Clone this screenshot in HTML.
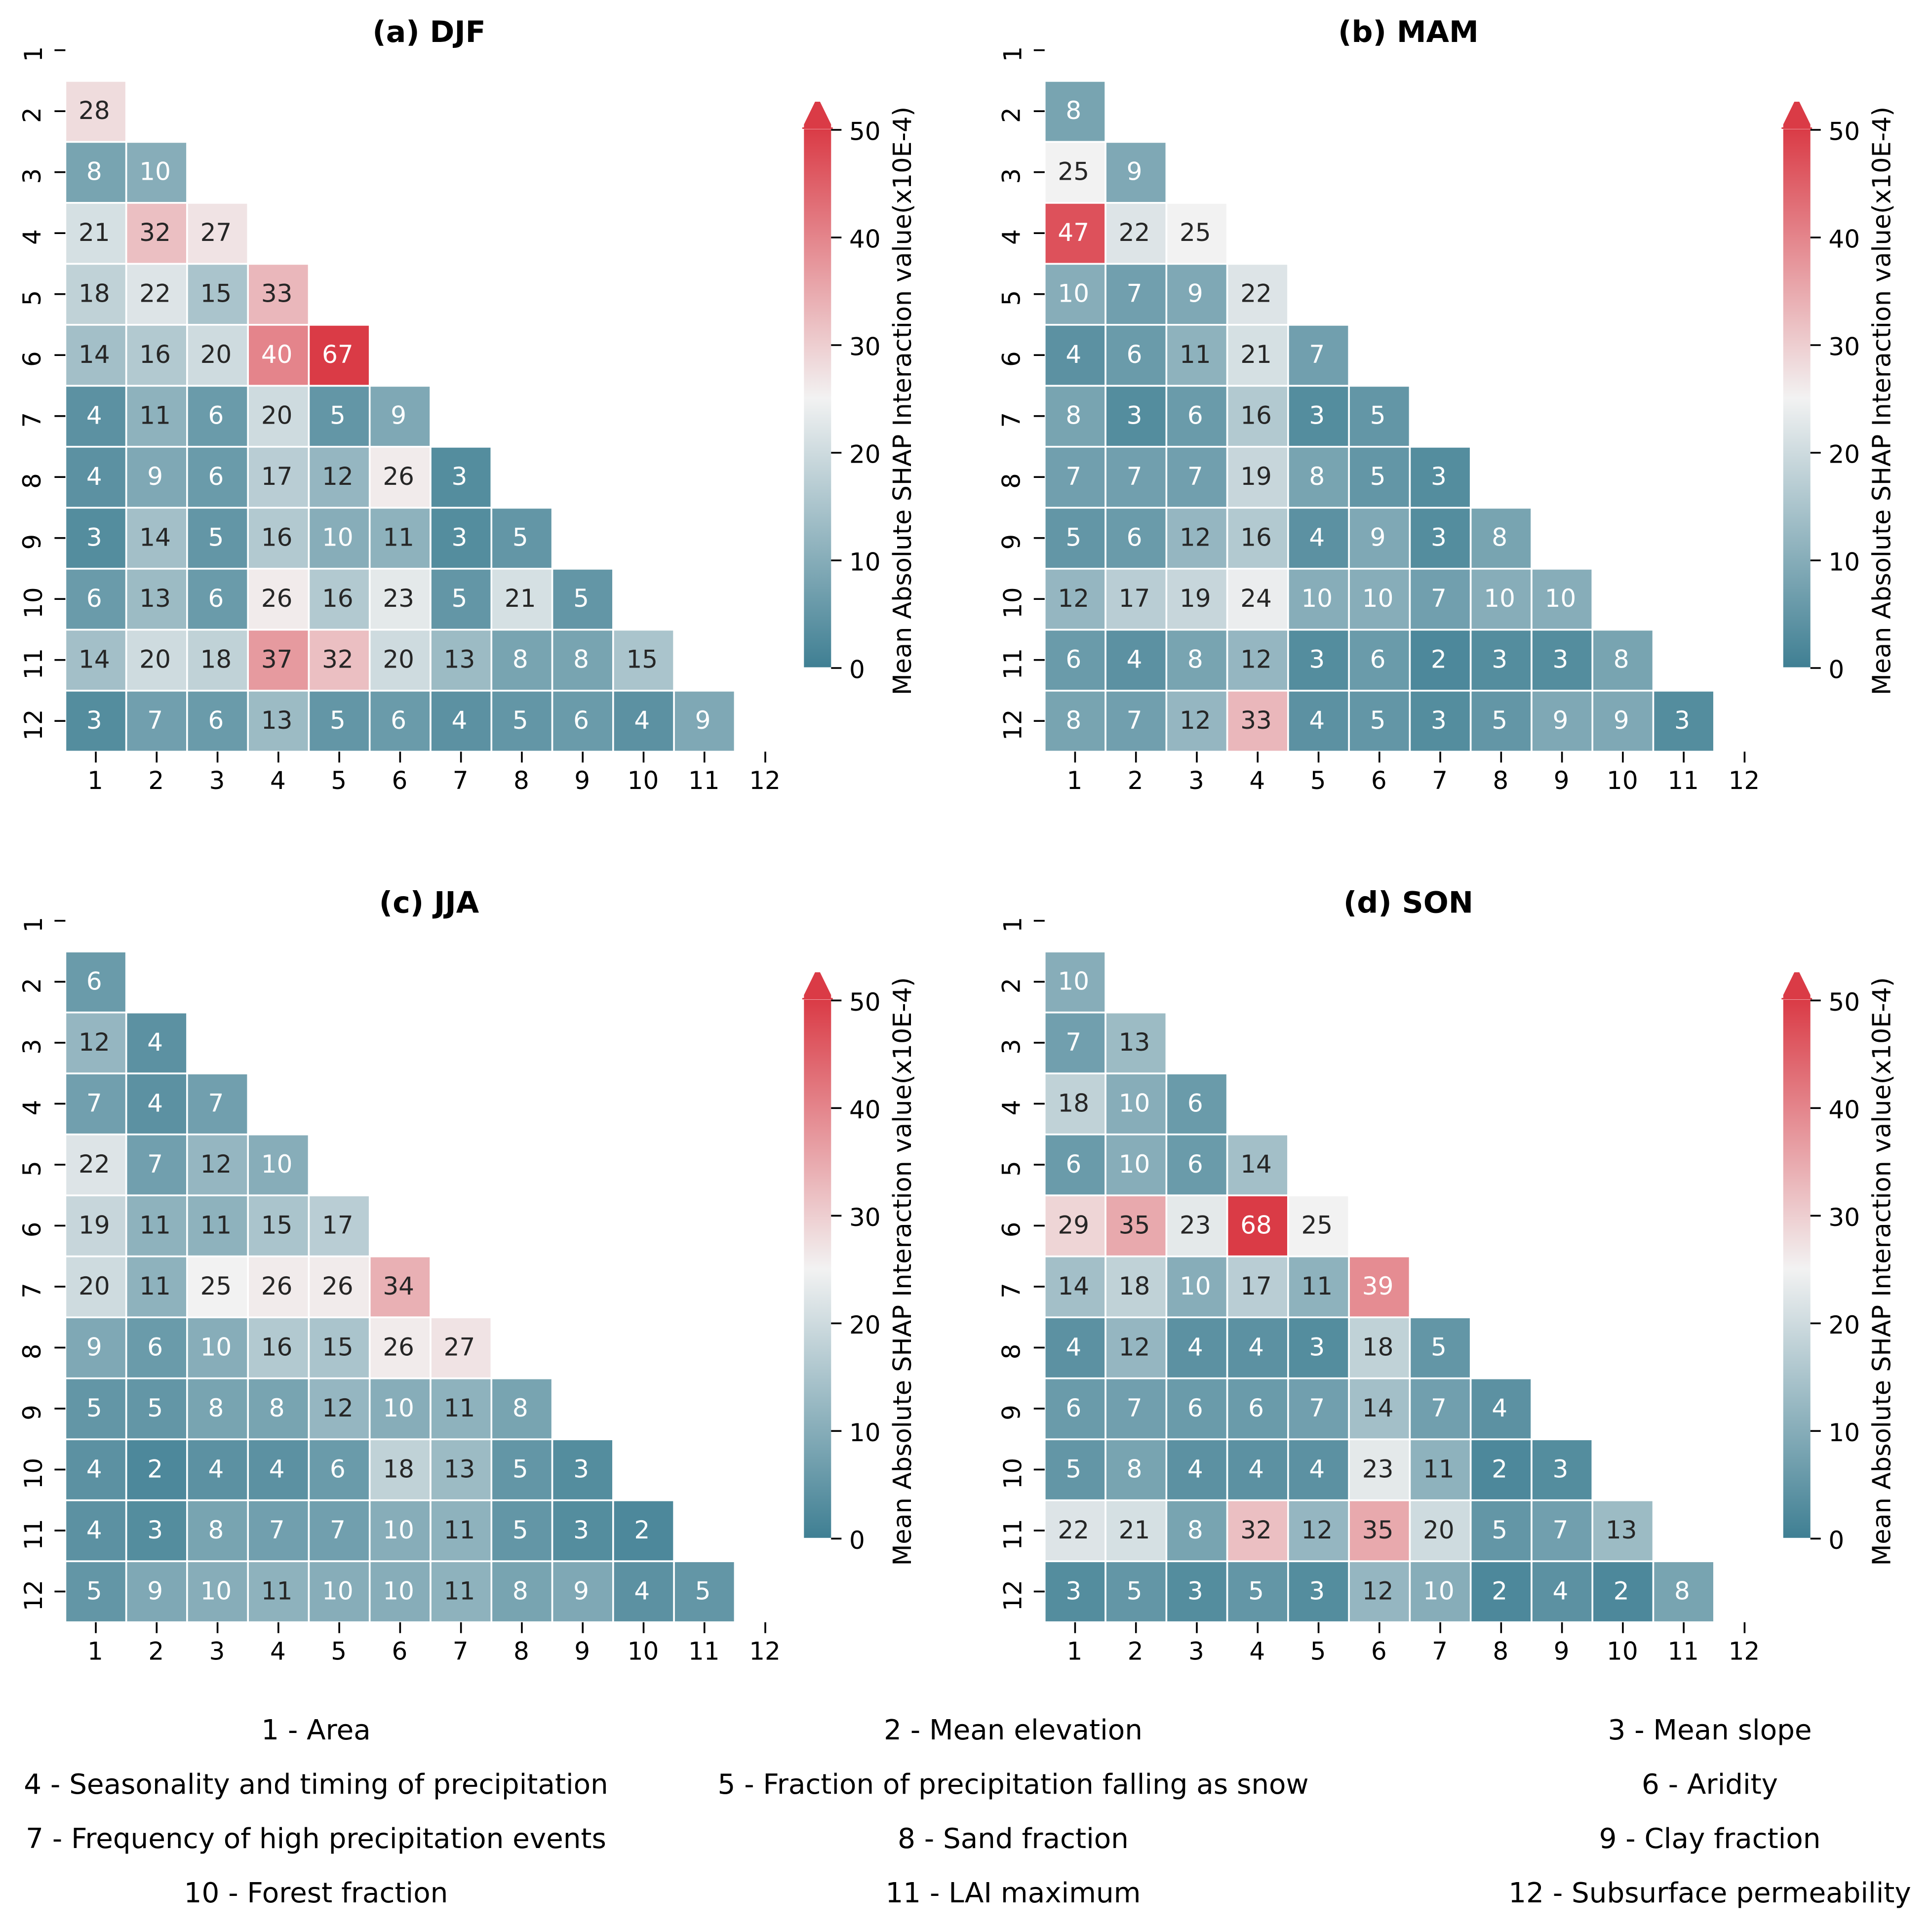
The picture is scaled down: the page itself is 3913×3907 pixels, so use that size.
<!DOCTYPE html>
<html>
<head>
<meta charset="utf-8">
<title>Mean Absolute SHAP Interaction value heatmaps</title>
<style>
html,body{margin:0;padding:0;background:#fff;}
svg{display:block;}
text{font-family:"DejaVu Sans","Liberation Sans",sans-serif;}
</style>
</head>
<body>
<svg id="chart" xmlns="http://www.w3.org/2000/svg" width="3913" height="3907" viewBox="0 0 3913 3907">
<rect x="0" y="0" width="3913" height="3907" fill="#ffffff"/>
<defs>
<linearGradient id="cbarGradient" x1="0" y1="1" x2="0" y2="0">
<stop offset="0" stop-color="#3f7f93"/>
<stop offset="0.5" stop-color="#f2f2f2"/>
<stop offset="1" stop-color="#da3b46"/>
</linearGradient>
</defs>
<g id="panels"></g>
<g id="feature-legend" font-size="56.3" fill="#000" text-anchor="middle">
<text x="640" y="3523">1 - Area</text>
<text x="2052" y="3523">2 - Mean elevation</text>
<text x="3463" y="3523">3 - Mean slope</text>
<text x="640" y="3633">4 - Seasonality and timing of precipitation</text>
<text x="2052" y="3633">5 - Fraction of precipitation falling as snow</text>
<text x="3463" y="3633">6 - Aridity</text>
<text x="640" y="3743">7 - Frequency of high precipitation events</text>
<text x="2052" y="3743">8 - Sand fraction</text>
<text x="3463" y="3743">9 - Clay fraction</text>
<text x="640" y="3853">10 - Forest fraction</text>
<text x="2052" y="3853">11 - LAI maximum</text>
<text x="3463" y="3853">12 - Subsurface permeability</text>
</g>
</svg>
<script>
const categories = ['1','2','3','4','5','6','7','8','9','10','11','12'];
const colorbarTicks = [0,10,20,30,40,50];
const colorbarLabel = 'Mean Absolute SHAP Interaction value(x10E-4)';
const djfValues = [
  [28],
  [8,10],
  [21,32,27],
  [18,22,15,33],
  [14,16,20,40,67],
  [4,11,6,20,5,9],
  [4,9,6,17,12,26,3],
  [3,14,5,16,10,11,3,5],
  [6,13,6,26,16,23,5,21,5],
  [14,20,18,37,32,20,13,8,8,15],
  [3,7,6,13,5,6,4,5,6,4,9]
];
const mamValues = [
  [8],
  [25,9],
  [47,22,25],
  [10,7,9,22],
  [4,6,11,21,7],
  [8,3,6,16,3,5],
  [7,7,7,19,8,5,3],
  [5,6,12,16,4,9,3,8],
  [12,17,19,24,10,10,7,10,10],
  [6,4,8,12,3,6,2,3,3,8],
  [8,7,12,33,4,5,3,5,9,9,3]
];
const jjaValues = [
  [6],
  [12,4],
  [7,4,7],
  [22,7,12,10],
  [19,11,11,15,17],
  [20,11,25,26,26,34],
  [9,6,10,16,15,26,27],
  [5,5,8,8,12,10,11,8],
  [4,2,4,4,6,18,13,5,3],
  [4,3,8,7,7,10,11,5,3,2],
  [5,9,10,11,10,10,11,8,9,4,5]
];
const sonValues = [
  [10],
  [7,13],
  [18,10,6],
  [6,10,6,14],
  [29,35,23,68,25],
  [14,18,10,17,11,39],
  [4,12,4,4,3,18,5],
  [6,7,6,6,7,14,7,4],
  [5,8,4,4,4,23,11,2,3],
  [22,21,8,32,12,35,20,5,7,13],
  [3,5,3,5,3,12,10,2,4,2,8]
];
const panelTitles = ['(a) DJF','(b) MAM','(c) JJA','(d) SON'];
const panelSeries = [djfValues,mamValues,jjaValues,sonValues];
const panelKeys = ['djf','mam','jja','son'];

const NS = 'http://www.w3.org/2000/svg';
const AX_LEFT = 132.4, AX_TOP = 40.4, CELL_W = 123.27, CELL_H = 123.5;
const CB_LEFT = 1628.3, CB_RIGHT = 1683.3, CB_Y0 = 1353, CB_PER_UNIT = 21.8;
const VMAX = 50, VCENTER = 25;
const LOW = [63,127,147], MID = [242,242,242], HIGH = [218,59,70];

function xBand(i){ return AX_LEFT + i * CELL_W; }
function yBand(j){ return AX_TOP + j * CELL_H; }
function cbY(v){ return CB_Y0 - v * CB_PER_UNIT; }
function colorFor(v){
  const c = Math.min(v, VMAX);
  const a = c <= VCENTER ? LOW : MID;
  const b = c <= VCENTER ? MID : HIGH;
  const t = c <= VCENTER ? c / VCENTER : (c - VCENTER) / (VMAX - VCENTER);
  const m = [0,1,2].map(function(k){ return Math.round(a[k] + (b[k] - a[k]) * t); });
  return 'rgb(' + m.join(',') + ')';
}
function annotationColor(v){ return (v <= 10 || v >= 38) ? '#ffffff' : '#262626'; }
function make(tag, attrs, parent, txt){
  const el = document.createElementNS(NS, tag);
  for (const k in attrs) el.setAttribute(k, attrs[k]);
  if (txt !== undefined) el.textContent = txt;
  parent.appendChild(el);
  return el;
}

const root = document.getElementById('panels');
const OFFSET_X = 1983.4, OFFSET_Y = 1763.3;

panelSeries.forEach(function(rows, p){
  const key = panelKeys[p];
  const dx = (p % 2) * OFFSET_X;
  const dy = Math.floor(p / 2) * OFFSET_Y;
  const g = make('g', {transform: 'translate(' + dx + ',' + dy + ')'}, root);
  
  

  const title = make('text', {x: 869, y: 85, 'font-size': 60, 'font-weight': 'bold', 'text-anchor': 'middle', fill: '#000'}, g, panelTitles[p]);
  
  

  rows.forEach(function(row, r){
    const j = r + 1;
    row.forEach(function(v, i){
      const cell = make('rect', {x: xBand(i), y: yBand(j), width: CELL_W, height: CELL_H, fill: colorFor(v), stroke: '#ffffff', 'stroke-width': 3.6}, g);
      
      
    });
  });
  rows.forEach(function(row, r){
    const j = r + 1;
    row.forEach(function(v, i){
      const label = make('text', {x: xBand(i) + CELL_W / 2 - 3.2, y: yBand(j) + CELL_H / 2 + 15.5, 'font-size': 50, 'text-anchor': 'middle', fill: annotationColor(v)}, g, String(v));
      
      
    });
  });

  const axisBottom = yBand(categories.length);
  categories.forEach(function(cat, i){
    const cx = xBand(i) + CELL_W / 2;
    const xt = make('line', {x1: cx, x2: cx, y1: axisBottom, y2: axisBottom + 22, stroke: '#000', 'stroke-width': 3.6}, g);
    
    
    const xl = make('text', {x: cx - 1, y: 1598, 'font-size': 50, 'text-anchor': 'middle', fill: '#000'}, g, cat);
    
    

    const cy = yBand(i) + CELL_H / 2 - 0.5;
    const yt = make('line', {x1: AX_LEFT - 22, x2: AX_LEFT, y1: cy, y2: cy, stroke: '#000', 'stroke-width': 3.6}, g);
    
    
    const bx = cat.charAt(0) === '1' ? 85 : 82;
    const yl = make('text', {x: bx, y: cy + 8, 'font-size': 50, 'text-anchor': 'middle', fill: '#000', transform: 'rotate(-90 ' + bx + ' ' + (cy + 8) + ')'}, g, cat);
    
    
  });

  const bar = make('rect', {x: CB_LEFT, y: cbY(VMAX) - 1.5, width: CB_RIGHT - CB_LEFT, height: cbY(0) - cbY(VMAX), fill: 'url(#cbarGradient)'}, g);
  
  
  const mid = (CB_LEFT + CB_RIGHT) / 2;
  const arrow = make('polygon', {points: (mid - 5) + ',206 ' + (mid + 5) + ',206 ' + CB_RIGHT + ',252 ' + CB_RIGHT + ',258 ' + (CB_RIGHT + 3.4) + ',258 ' + (CB_RIGHT + 3.4) + ',261 ' + (CB_LEFT - 3.4) + ',261 ' + (CB_LEFT - 3.4) + ',258 ' + CB_LEFT + ',258 ' + CB_LEFT + ',252', fill: '#da3b46'}, g);
  
  

  colorbarTicks.forEach(function(t){
    const ty = cbY(t);
    const tick = make('line', {x1: CB_RIGHT, x2: CB_RIGHT + 21, y1: ty, y2: ty, stroke: '#000', 'stroke-width': 3.6}, g);
    
    
    const lab = make('text', {x: 1720, y: ty + 20.5, 'font-size': 50, fill: '#000'}, g, String(t));
    
    
  });
  const cbl = make('text', {x: 1845, y: 812, 'font-size': 50.8, 'text-anchor': 'middle', fill: '#000', transform: 'rotate(-90 1845 812)'}, g, colorbarLabel);
  
  
});
</script>
</body>
</html>
